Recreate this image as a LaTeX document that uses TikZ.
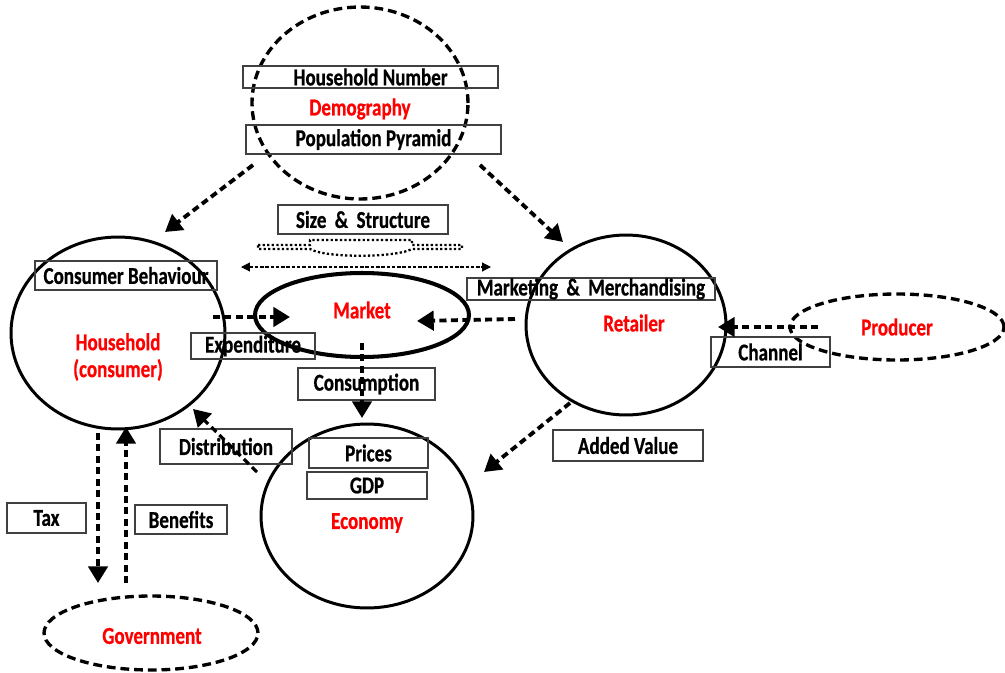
\documentclass[tikz,border=0pt]{standalone}
\usepackage{fontspec}
\setmainfont{Carlito}[FakeStretch=0.785,FakeBold=0.6]
\usetikzlibrary{shapes.geometric,arrows.meta}
\begin{document}
\begin{tikzpicture}[x=0.02cm,y=-0.02cm,
  font=\fontsize{13.8}{15.3}\selectfont\bfseries,
  ell/.style={ellipse,draw,line width=1.7pt,inner sep=0pt},
  dell/.style={ell,line width=1.9pt,dash pattern=on 5pt off 2.8pt},
  box/.style={draw=black!75,line width=0.8pt,inner sep=0pt},
  lbl/.style={text=red,inner sep=0pt},
  flow/.style={line width=2.2pt,dash pattern=on 4pt off 2.5pt,-{Triangle[length=9.5pt,width=11pt]}},
  thinflow/.style={line width=0.6pt,dash pattern=on 2pt off 1pt,{Triangle[length=5pt,width=5pt]}-{Triangle[length=5pt,width=5pt]}},
]
\useasboundingbox (0,0) rectangle (1005,673);

% main shapes
\node[dell,minimum width=4.32cm,minimum height=3.84cm] (demo) at (360,103) {};
\node[ell,minimum width=4.28cm,minimum height=3.84cm] (hh) at (118,333) {};
\node[ell,line width=2.3pt,minimum width=4.28cm,minimum height=1.68cm] (mkt) at (362,315) {};
\node[ell,minimum width=4.0cm,minimum height=3.6cm] (ret) at (626,325) {};
\node[dell,minimum width=4.28cm,minimum height=1.32cm] (prod) at (897,327) {};
\node[ell,minimum width=4.24cm,minimum height=3.68cm] (eco) at (367,516) {};
\node[dell,minimum width=4.28cm,minimum height=1.48cm] (gov) at (151,633) {};

% red labels
\node[lbl] (tdemo) at (360,109) {Demography};
\node[lbl,align=center] (thh) at (118,357) {Household\\(consumer)};
\node[lbl] (tmkt) at (362,310) {Market};
\node[lbl] (tret) at (634,323) {Retailer};
\node[lbl] (tprod) at (897,327) {Producer};
\node[lbl] (teco) at (367,523) {Economy};
\node[lbl] (tgov) at (152,636) {Government};

% boxes
\node[box,minimum width=5.1cm,minimum height=0.44cm] (hn) at (370.5,77) {Household Number};
\node[box,minimum width=5.1cm,minimum height=0.58cm] (pp) at (373.5,139.5) {Population Pyramid};
\node[box,minimum width=3.4cm,minimum height=0.58cm] (ss) at (363,219.5) {Size \,\&\, Structure};
\node[box,minimum width=3.64cm,minimum height=0.58cm] (cb) at (126,275.5) {Consumer Behaviour};
\node[box,minimum width=2.48cm,minimum height=0.52cm] (exp) at (253,346) {Expenditure};
\node[box,minimum width=4.96cm,minimum height=0.44cm] (mm) at (591,289) {Marketing \,\&\, Merchandising};
\node[box,minimum width=2.38cm,minimum height=0.6cm] (ch) at (770.5,352) {Channel};
\node[box,minimum width=2.74cm,minimum height=0.64cm] (cons) at (366.5,384) {Consumption};
\node[box,minimum width=2.38cm,minimum height=0.6cm] (pr) at (368.5,453) {Prices};
\node[box,minimum width=2.4cm,minimum height=0.54cm] (gdp) at (367,485.5) {GDP};
\node[box,minimum width=2.64cm,minimum height=0.7cm] (dist) at (226,446.5) {Distribution};
\node[box,minimum width=1.84cm,minimum height=0.58cm] (ben) at (181,519.5) {Benefits};
\node[box,minimum width=1.58cm,minimum height=0.6cm] (tax) at (46.5,518) {Tax};
\node[box,minimum width=3.0cm,minimum height=0.62cm] (av) at (628,445.5) {Added Value};

% dotted block arrow under Size & Structure
\draw[line width=1.3pt,dash pattern=on 1.3pt off 1.3pt]
  (258,245) -- (310,245) -- (310,240) -- (412,240) -- (412,245) -- (462,245)
  -- (462,249) -- (412,249) .. controls (395,258) and (325,258) .. (310,249) -- (258,249) -- cycle;

% connector end points
\coordinate (sA) at (241,267); \coordinate (sB) at (491,267);
\coordinate (d1s) at (253,165); \coordinate (d1e) at (165,232);
\coordinate (d2s) at (480,165); \coordinate (d2e) at (563,242);
\coordinate (hms) at (213,317); \coordinate (hme) at (290,317);
\coordinate (rms) at (515,319); \coordinate (rme) at (417,321);
\coordinate (prs) at (818,327); \coordinate (pre) at (718,327);
\coordinate (mes) at (362,343); \coordinate (mee) at (362,418);
\coordinate (ehs) at (257,472); \coordinate (ehe) at (193,409);
\coordinate (res) at (570,403); \coordinate (ree) at (484,472);
\coordinate (hgs) at (98,433); \coordinate (hge) at (98,583);
\coordinate (ghs) at (126,583); \coordinate (ghe) at (126,427);

% connectors
\draw[thinflow] (sA) -- (sB);
\draw[flow] (d1s) -- (d1e);
\draw[flow] (d2s) -- (d2e);
\draw[flow] (hms) -- (hme);
\draw[flow] (rms) -- (rme);
\draw[flow] (prs) -- (pre);
\draw[flow] (mes) -- (mee);
\draw[flow,line width=1.8pt] (ehs) -- (ehe);
\draw[flow] (res) -- (ree);
\draw[flow] (hgs) -- (hge);
\draw[flow] (ghs) -- (ghe);
\end{tikzpicture}
\end{document}
